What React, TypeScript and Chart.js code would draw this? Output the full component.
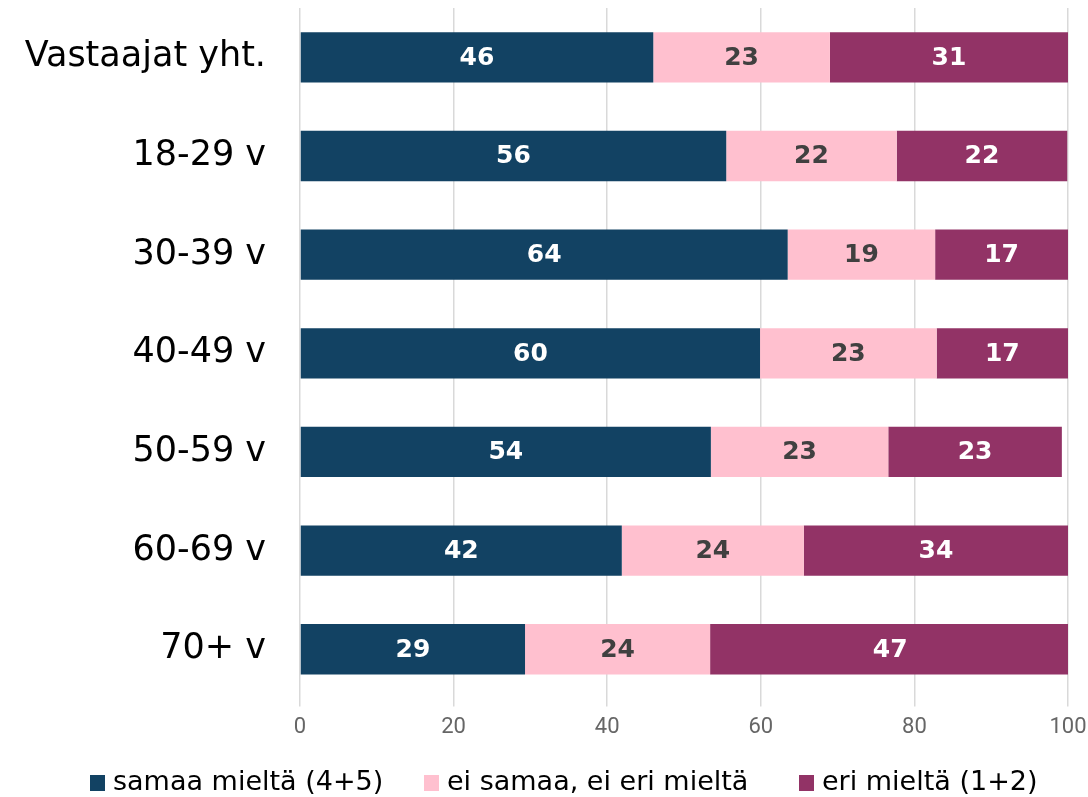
import React, { useEffect, useRef } from "react";
import { Chart, registerables } from "chart.js";

Chart.register(...registerables);

const categories = ["Vastaajat yht.", "18-29 v", "30-39 v", "40-49 v", "50-59 v", "60-69 v", "70+ v"];
const agree = [46.0, 55.5, 63.5, 59.9, 53.5, 41.9, 29.3];
const neutral = [23.0, 22.2, 19.2, 23.0, 23.1, 23.7, 24.1];
const disagree = [31.0, 22.2, 17.3, 17.1, 22.6, 34.4, 46.9];
const seriesNames = ["samaa mieltä (4+5)", "ei samaa, ei eri mieltä", "eri mieltä (1+2)"];
const xTicks = [0, 20, 40, 60, 80, 100];

const colors = ["#124263", "#FFC0CF", "#923366"];
const labelColors = ["#ffffff", "#404040", "#ffffff"];
const legendBoxX = [90, 424, 799];

const valueLabels = {
  id: "valueLabels",
  afterDatasetsDraw(chart: any) {
    const ctx = chart.ctx;
    ctx.save();
    ctx.font = "bold 25px 'DejaVu Sans'";
    ctx.textAlign = "center";
    ctx.textBaseline = "middle";
    chart.data.datasets.forEach((ds: any, di: number) => {
      const meta = chart.getDatasetMeta(di);
      meta.data.forEach((el: any, i: number) => {
        const v = ds.data[i];
        ctx.fillStyle = labelColors[di];
        ctx.fillText(String(Math.round(v)), (el.base + el.x) / 2, el.y + 1);
      });
    });
    ctx.restore();
  },
};

const customLegend = {
  id: "customLegend",
  afterDraw(chart: any) {
    const ctx = chart.ctx;
    ctx.save();
    ctx.font = "27px 'DejaVu Sans'";
    ctx.textBaseline = "middle";
    ctx.textAlign = "left";
    const boxW = 15;
    const boxH = 16;
    const y = 783;
    chart.data.datasets.forEach((ds: any, i: number) => {
      const x = legendBoxX[i];
      ctx.fillStyle = ds.backgroundColor;
      ctx.fillRect(x, y - boxH / 2, boxW, boxH);
      ctx.fillStyle = "#000000";
      ctx.fillText(ds.label, x + boxW + 8, y);
    });
    ctx.restore();
  },
};

export default function App() {
  const ref = useRef<HTMLCanvasElement>(null);
  useEffect(() => {
    document.body.style.margin = "0";
    const chart = new Chart(ref.current!, {
      type: "bar",
      data: {
        labels: categories,
        datasets: [agree, neutral, disagree].map((d, i) => ({
          label: seriesNames[i],
          data: d,
          backgroundColor: colors[i],
          borderWidth: 0,
          barPercentage: 0.51,
          categoryPercentage: 1,
        })),
      },
      options: {
        indexAxis: "y",
        animation: false,
        responsive: false,
        layout: { padding: { left: 10, right: 20, top: 8, bottom: 48 } },
        scales: {
          x: {
            stacked: true,
            min: 0,
            max: 100,
            afterBuildTicks: (axis: any) => {
              axis.ticks = xTicks.map((v) => ({ value: v }));
            },
            afterFit: (axis: any) => {
              axis.paddingLeft = 0;
              axis.paddingRight = 0;
            },
            grid: { color: "#d9d9d9", lineWidth: 1.5, drawTicks: true, tickLength: 8 },
            border: { display: false },
            ticks: { color: "#666666", font: { family: "Roboto", size: 22 }, padding: 8 },
          },
          y: {
            stacked: true,
            grid: { display: false, drawTicks: false },
            border: { display: false },
            ticks: { color: "#000000", font: { family: "'DejaVu Sans'", size: 35 }, padding: 34 },
            afterFit: (axis: any) => {
              axis.paddingTop = 0;
              axis.paddingBottom = 0;
              axis.width = 290;
            },
          },
        },
        plugins: {
          legend: { display: false },
          tooltip: { enabled: false },
        },
      },
      plugins: [valueLabels, customLegend],
    });
    return () => chart.destroy();
  }, []);
  return (
    <div style={{ width: 1088, height: 797 }}>
      <canvas ref={ref} width={1088} height={797} />
    </div>
  );
}
